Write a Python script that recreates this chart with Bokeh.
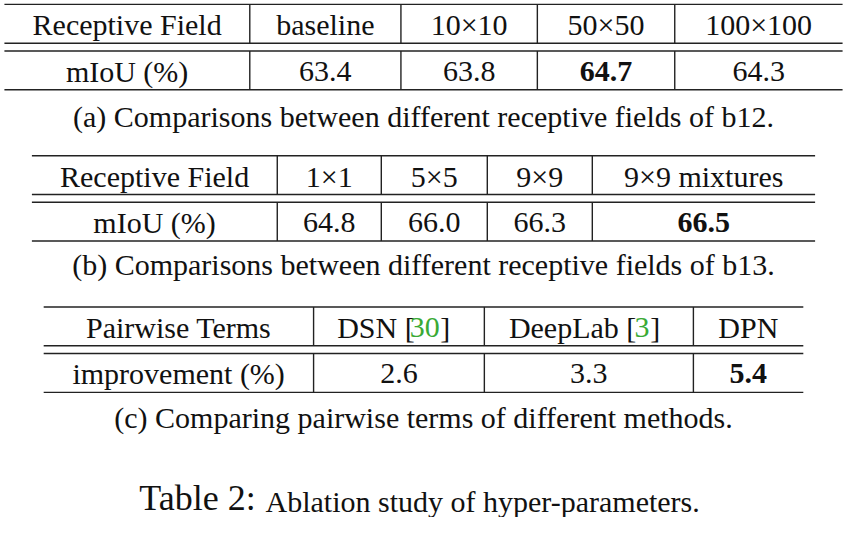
from bokeh.plotting import figure
from bokeh.models import Range1d
from bokeh.core.properties import value
from bokeh.embed import file_html
from bokeh.resources import INLINE

# data
a_header = ["Receptive Field", "baseline", "10×10", "50×50", "100×100"]
a_values = ["mIoU (%)", "63.4", "63.8", "64.7", "64.3"]
a_bold = [False, False, False, True, False]
b_header = ["Receptive Field", "1×1", "5×5", "9×9", "9×9 mixtures"]
b_values = ["mIoU (%)", "64.8", "66.0", "66.3", "66.5"]
b_bold = [False, False, False, False, True]
c_header = ["Pairwise Terms", "DSN [30]", "DeepLab [3]", "DPN"]
c_values = ["improvement (%)", "2.6", "3.3", "5.4"]
c_bold = [False, False, False, True]
captions = ["(a) Comparisons between different receptive fields of b12.",
            "(b) Comparisons between different receptive fields of b13.",
            "(c) Comparing pairwise terms of different methods."]

FONT = value("Liberation Serif")
FS = "30px"
W, H = 846, 517
p = figure(width=W, height=H, output_backend="svg", toolbar_location=None,
           x_range=Range1d(0, 862), y_range=Range1d(533, 0), min_border=0)
p.axis.visible = False
p.grid.visible = False
p.outline_line_color = None

def table(cols, top, header, vals, bold, skip_header_text=False):
    left, right = cols[0], cols[-1]
    mid1, mid2, bot = top + 40, top + 48, top + 88
    lw = 1.4
    for y in (top, mid1, mid2, bot):
        p.segment(x0=[left], y0=[y], x1=[right], y1=[y], line_color="#222", line_width=lw)
    for x in cols[1:-1]:
        p.segment(x0=[x, x], y0=[top, mid2], x1=[x, x], y1=[mid1, bot], line_color="#222", line_width=lw)
    cx = [(cols[i] + cols[i + 1]) / 2 for i in range(len(cols) - 1)]
    if not skip_header_text:
        p.text(x=cx, y=[top + 21] * len(cx), text=header, text_font=FONT, text_font_size=FS,
               text_align="center", text_baseline="middle", text_color="#111")
    n = [v for v, b in zip(vals, bold) if not b]
    nx = [x for x, b in zip(cx, bold) if not b]
    bv = [v for v, b in zip(vals, bold) if b]
    bx = [x for x, b in zip(cx, bold) if b]
    p.text(x=nx, y=[top + 69] * len(nx), text=n, text_font=FONT, text_font_size=FS,
           text_align="center", text_baseline="middle", text_color="#111")
    p.text(x=bx, y=[top + 69] * len(bx), text=bv, text_font=FONT, text_font_size=FS,
           text_align="center", text_baseline="middle", text_color="#111", text_font_style="bold")
    return cx

table([4, 254, 408, 547, 687, 858], 4, a_header, a_values, a_bold)
table([32, 282, 388, 496, 603, 830], 160, b_header, b_values, b_bold)
cx = table([44, 319, 493, 706, 818], 316, c_header, c_values, c_bold, skip_header_text=True)

# header of (c) with green citation numbers
hy = 316 + 21
p.text(x=[cx[0], cx[3]], y=[hy, hy], text=[c_header[0], c_header[3]], text_font=FONT,
       text_font_size=FS, text_align="center", text_baseline="middle", text_color="#111")
p.text(x=[343, 448, 518, 662], y=[hy] * 4, text=["DSN [", "]", "DeepLab [", "]"], text_font=FONT,
       text_font_size=FS, text_align="left", text_baseline="middle", text_color="#111")
p.text(x=[417, 646], y=[hy] * 2, text=["30", "3"], text_font=FONT, text_font_size=FS,
       text_align="left", text_baseline="middle", text_color="#3aaa35")

p.text(x=[431, 431, 431], y=[120, 272, 430], text=captions, text_font=FONT, text_font_size=FS,
       text_align="center", text_baseline="middle", text_color="#111")
p.text(x=[260], y=[513], text=["Table 2:"], text_font=FONT, text_font_size="36px",
       text_align="right", text_baseline="middle", text_color="#111")
p.text(x=[270], y=[516], text=["Ablation study of hyper-parameters."], text_font=FONT,
       text_font_size=FS, text_align="left", text_baseline="middle", text_color="#111")

open("out.html", "w").write(file_html(p, INLINE))
